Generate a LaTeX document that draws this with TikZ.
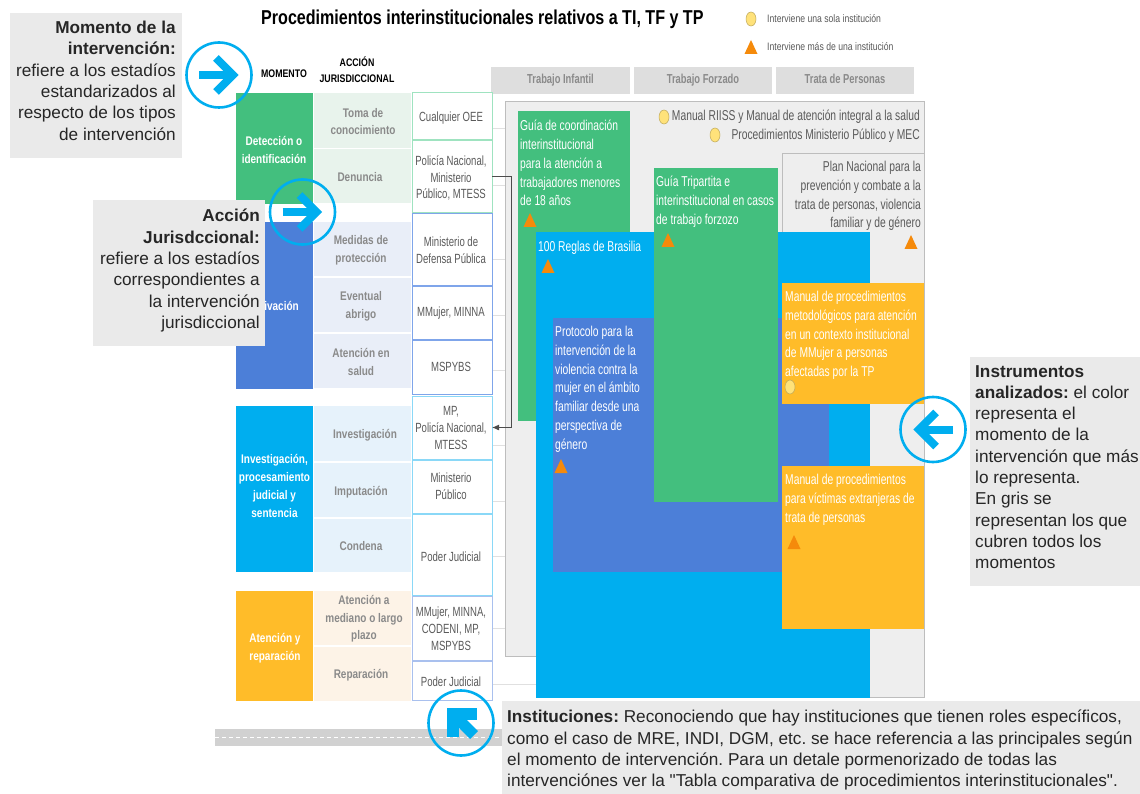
\documentclass[tikz,border=0pt]{standalone}
\usepackage{fontspec}
\setmainfont{Liberation Sans}
\newfontfamily\plainf{Liberation Sans}
\newfontfamily\nrw[FakeStretch=0.8]{Liberation Sans}
\newfontfamily\nrww[FakeStretch=0.72]{Liberation Sans}
\usetikzlibrary{calc,arrows.meta,shapes.geometric}
\definecolor{cgreen}{HTML}{43BF7E}
\definecolor{cblue}{HTML}{4C7FD8}
\definecolor{ccyan}{HTML}{00AEEF}
\definecolor{cyel}{HTML}{FFBC29}
\definecolor{lgreen}{HTML}{E8F3EC}
\definecolor{lblue}{HTML}{E9EEF8}
\definecolor{lcyan}{HTML}{E6F2FB}
\definecolor{lorange}{HTML}{FDF3E7}
\definecolor{callout}{HTML}{EAEAEA}
\definecolor{panel}{HTML}{EEEEEE}
\definecolor{edgegray}{HTML}{BDBDBD}
\definecolor{tabgray}{HTML}{DEDEDE}
\definecolor{inkgray}{HTML}{8A8A8A}
\definecolor{instgray}{HTML}{5A5A5A}
\definecolor{ctri}{HTML}{F58A0B}
\definecolor{ccir}{HTML}{FFE27A}
\definecolor{bgreen}{HTML}{9FE3C0}
\definecolor{bblue}{HTML}{7FA5EA}
\definecolor{bcyan}{HTML}{8AD8F7}
\definecolor{bperi}{HTML}{A9C0EE}
\newcommand\bx[7][]{\pgfmathsetmacro\bxw{#5-#3}\pgfmathsetmacro\bxh{#6-#4}\pgfmathsetmacro\bxcx{(#5+#3)/2}\pgfmathsetmacro\bxcy{(#6+#4)/2}%
\node[rect,minimum width=\bxw pt,minimum height=\bxh pt,#7] (#2) at (\bxcx,\bxcy) {#1};}
\newcommand\tri[3]{\node[inner sep=0,minimum size=0pt] (#1) at (#2,#3) {};\fill[ctri] ($(#1)+(-6.5,7)$) -- ($(#1)+(6.5,7)$) -- ($(#1)+(0,-7)$) -- cycle;}
\newcommand\dotc[3]{\node[ellipse,fill=ccir,draw=ccir!75!black,line width=.5pt,inner sep=0,minimum width=10pt,minimum height=14pt] (#1) at (#2,#3) {};}
\newcommand\tabt[1]{\nrww\bfseries\fontsize{13}{15}\selectfont\textcolor{inkgray}{#1}}
\tikzset{
 rect/.style={rectangle,inner sep=0,outer sep=0},
 cap16/.style={font=\fontsize{17.2}{21.3}\selectfont,text=black!85,inner sep=0},
 ttl/.style={font=\nrw\bfseries\fontsize{20.1}{22}\selectfont,text=black,inner sep=0},
 hd/.style={font=\nrw\bfseries\fontsize{11}{16}\selectfont,text=black,inner sep=0,align=center},
 leg/.style={font=\nrw\fontsize{10.8}{12}\selectfont,text=instgray,inner sep=0,anchor=west},
 mom/.style={font=\nrw\bfseries\fontsize{12.5}{17.7}\selectfont,text=white,inner sep=0,align=center},
 act/.style={font=\nrw\bfseries\fontsize{12.5}{17.7}\selectfont,text=inkgray,inner sep=0,align=center},
 ins/.style={font=\nrww\fontsize{13.3}{16.8}\selectfont,text=instgray,inner sep=0,align=center},
 doc/.style={font=\nrww\fontsize{14.3}{18.8}\selectfont,text=white,inner sep=0,anchor=north west,align=left},
 docg/.style={font=\nrww\fontsize{14.3}{18.8}\selectfont,text=instgray,inner sep=0,anchor=north east,align=right},
 ring/.style={circle,draw=ccyan,line width=2.6pt,inner sep=0,minimum width=65pt,minimum height=65pt,fill=none},
 arrowmark/.style={draw=ccyan,line width=8pt,line join=miter},
 grid/.style={draw=black!12,line width=1pt},
}
\frenchspacing
\begin{document}
\begin{tikzpicture}[x=1pt,y=-1pt]
\useasboundingbox (0,0) rectangle (1140,794);
\fill[white] (0,0) rectangle (1140,794);
% title, legend
\node[ttl,anchor=west] (title) at (261,19) {Procedimientos interinstitucionales relativos a TI, TF y TP};
\dotc{legc}{751}{19}
\node[leg] (legca) at (767,19) {Interviene una sola institución};
\tri{legt}{751}{47}
\node[leg] (legta) at (767,47) {Interviene más de una  institución};
\node[hd] (hmom) at (284,74) {MOMENTO};
\node[hd] (hacc) at (357,70) {ACCIÓN\\JURISDICCIONAL};
% tabs
\bx[\tabt{Trabajo Infantil}]{t1}{491}{67}{630}{94}{fill=tabgray}
\bx[\tabt{Trabajo Forzado}]{t2}{634}{67}{772}{94}{fill=tabgray}
\bx[\raisebox{4pt}{\tabt{Trata de Personas}}]{t3}{776}{67}{914}{94}{fill=tabgray}
% guide lines
\foreach \yy/\xe in {129/505,186/505,260/505,315/505,370/505,445/505,501/505,556/505,628/505,684/536}{
 \draw[grid] (490,\yy) -- (\xe,\yy);}
% momentos
\bx{m1}{236}{93}{313}{204}{fill=cgreen}
\bx{m2}{236}{222}{313}{389}{fill=cblue}
\bx{m3}{236}{406}{313}{572}{fill=ccyan}
\bx{m4}{236}{591}{313}{701}{fill=cyel}
\node[mom] (m1t) at (274,150) {Detección o\\identificación};
\node[mom,anchor=east] (m2t) at (299,306) {ivación};
\node[mom] (m3t) at (274.5,486) {Investigación,\\procesamiento\\judicial y\\sentencia};
\node[mom] (m4t) at (275,648) {Atención y\\reparación};
% acciones
\bx{a1}{314}{93}{411}{148}{fill=lgreen}
\bx{a2}{314}{149}{411}{203}{fill=lgreen}
\bx{a3}{314}{222}{411}{276}{fill=lblue}
\bx{a4}{314}{278}{411}{332}{fill=lblue}
\bx{a5}{314}{334}{411}{388}{fill=lblue}
\bx{a6}{314}{406}{411}{461}{fill=lcyan}
\bx{a7}{314}{463}{411}{517}{fill=lcyan}
\bx{a8}{314}{519}{411}{572}{fill=lcyan}
\bx{a9}{314}{591}{411}{645}{fill=lorange}
\bx{a10}{314}{647}{411}{701}{fill=lorange}
\node[act] (a1t) at (363,121.5) {Toma de\\conocimiento};
\node[act] (a2t) at (360,177) {Denuncia};
\node[act] (a3t) at (361,250) {Medidas de\\protección};
\node[act] (a4t) at (361,306) {Eventual\\abrigo};
\node[act] (a5t) at (361,362) {Atención en\\salud};
\node[act] (a6t) at (365,435) {Investigación};
\node[act] (a7t) at (361,492) {Imputación};
\node[act] (a8t) at (361,546) {Condena};
\node[act] (a9t) at (364,619) {Atención a\\mediano o largo\\plazo};
\node[act] (a10t) at (361,675) {Reparación};
% instituciones
\bx{i1}{412}{92}{492}{139.5}{draw=bgreen,line width=.9pt,fill=white}
\bx{i2}{412}{140.5}{492}{212}{draw=bgreen,line width=.9pt,fill=white}
\bx{i3}{412}{213}{492}{285}{draw=bblue,line width=.9pt,fill=white}
\bx{i4}{412}{286}{492}{339}{draw=bblue,line width=.9pt,fill=white}
\bx{i5}{412}{340}{492}{394}{draw=bblue,line width=.9pt,fill=white}
\bx{i6}{412}{396}{492}{459}{draw=bcyan,line width=.9pt,fill=white}
\bx{i7}{412}{460}{492}{513}{draw=bcyan,line width=.9pt,fill=white}
\bx{i8}{412}{514}{492}{595}{draw=bcyan,line width=.9pt,fill=white}
\bx{i9}{412}{596}{492}{660}{draw=bperi,line width=.9pt,fill=white}
\bx{i10}{412}{661}{492}{700}{draw=bperi,line width=.9pt,fill=white}
\node[ins] (i1t) at (451,118) {Cualquier OEE};
\node[ins] (i2t) at (451,178) {Policía Nacional,\\Ministerio\\Público, MTESS};
\node[ins] (i3t) at (451,250) {Ministerio de\\Defensa Pública};
\node[ins] (i4t) at (451,313) {MMujer, MINNA};
\node[ins] (i5t) at (451,367) {MSPYBS};
\node[ins] (i6t) at (451,428) {MP,\\Policía Nacional,\\MTESS};
\node[ins] (i7t) at (451,486) {Ministerio\\Público};
\node[ins] (i8t) at (451,557) {Poder Judicial};
\node[ins] (i9t) at (451,629) {MMujer, MINNA,\\CODENI, MP,\\MSPYBS};
\node[ins] (i10t) at (451,682) {Poder Judicial};
% panel
\fill[panel,draw=edgegray,line width=1pt] (505,102) -- (924,102) -- (924,697) -- (536,697) -- (536,656) -- (505,656) -- cycle;
% connector
\draw[black!70,line width=1pt,-{Latex[length=7pt,width=6pt]}] (i2.east) -- ++(19,0) |- (i6.east);
\fill[panel,draw=edgegray,line width=1pt] (782,400) -- (782,154) -- (924,154) -- (924,400);
\bx{g1}{518}{111}{630}{421}{fill=cgreen}
\bx{c1}{536}{232}{870}{698}{fill=ccyan}
\bx{b1}{553}{318}{829}{572}{fill=cblue}
\bx{g2}{654}{168}{778}{502}{fill=cgreen}
\bx{y1}{782}{283}{924}{404}{fill=cyel}
\bx{y2}{782}{466}{924}{629}{fill=cyel}
% documents
\node[docg] (d1) at (920,109.5) {Manual RIISS y Manual de atención integral a la salud\\Procedimientos Ministerio Público y MEC};
\dotc{d1c}{664}{117}
\dotc{d2c}{715}{135}
\node[docg] (d3) at (921,161) {Plan Nacional para la\\prevención y combate a la\\trata de personas, violencia\\familiar y de género};
\tri{d3t}{911}{242}
\node[doc] (d4) at (520,120) {Guía de coordinación\\interinstitucional\\para la atención a\\trabajadores menores\\de 18 años};
\tri{d4t}{530}{220}
\node[doc] (d5) at (538,241) {100 Reglas de Brasilia};
\tri{d5t}{548}{266}
\node[doc] (d6) at (555,326) {Protocolo para la\\intervención de la\\violencia contra la\\mujer en el ámbito\\familiar desde una\\perspectiva de\\género};
\tri{d6t}{561}{466}
\node[doc] (d7) at (656,176) {Guía Tripartita e\\interinstitucional en casos\\de trabajo forzozo};
\tri{d7t}{668}{240}
\node[doc] (d8) at (785,291) {Manual de procedimientos\\metodológicos para atención\\en un contexto institucional\\de MMujer a personas\\afectadas por la TP};
\dotc{d8c}{790}{387}
\node[doc] (d9) at (785,474) {Manual de procedimientos\\para víctimas extranjeras de\\trata de personas};
\tri{d9t}{794}{542}
% road
\bx{road}{215}{729}{505}{746}{fill=black!18}
\coordinate (rl) at (215,737.5);
\coordinate (rr) at (505,737.5);
\draw[white,line width=1pt,dash pattern=on 4pt off 3pt] (rl) -- (rr);
% callouts
\bx{cb1}{10}{13}{182}{158}{fill=callout}
\node[cap16,anchor=north east,align=right] (cb1t) at (176,21) {\textbf{Momento de la}\\\textbf{intervención:}\\refiere a los estadíos\\estandarizados al\\respecto de los tipos\\de intervención};
\bx{cb2}{93}{200}{265}{346}{fill=callout}
\node[cap16,anchor=north east,align=right] (cb2t) at (260,209) {\textbf{Acción}\\\textbf{Jurisdccional:}\\refiere a los estadíos\\correspondientes a\\la intervención\\jurisdiccional};
\bx{cb3}{970}{357}{1140}{586}{fill=callout}
\node[cap16,anchor=north west,align=left] (cb3t) at (975,365) {\textbf{Instrumentos}\\\textbf{analizados:} el color\\representa el\\momento de la\\intervención que más\\lo representa.\\En gris se\\representan los que\\cubren todos los\\momentos};
\bx{cb4}{502}{701}{1140}{794}{fill=callout}
\node[cap16,anchor=north west,align=left] (cb4t) at (507,710) {\textbf{Instituciones:} Reconociendo que hay instituciones que tienen roles específicos,\\como el caso de MRE, INDI, DGM, etc. se hace referencia a las principales según\\el momento de intervención. Para un detale pormenorizado de todas las\\intervenciónes ver la {\plainf"}Tabla comparativa de procedimientos interinstitucionales{\plainf"}.};
% rings
\node[ring] (r1) at (219,75) {};
\draw[arrowmark] ($(r1)+(-20,0)$) -- ($(r1)+(14,0)$);
\draw[arrowmark] ($(r1)+(-3,-17)$) -- ($(r1)+(14,0)$) -- ($(r1)+(-3,17)$);
\node[ring] (r2) at (302.5,212) {};
\draw[arrowmark] ($(r2)+(-20,0)$) -- ($(r2)+(14,0)$);
\draw[arrowmark] ($(r2)+(-3,-17)$) -- ($(r2)+(14,0)$) -- ($(r2)+(-3,17)$);
\node[ring] (r3) at (933,429.5) {};
\draw[arrowmark] ($(r3)+(20,0)$) -- ($(r3)+(-14,0)$);
\draw[arrowmark] ($(r3)+(3,-17)$) -- ($(r3)+(-14,0)$) -- ($(r3)+(3,17)$);
\node[ring] (r4) at (461,723) {};
\draw[draw=ccyan,line width=11pt] ($(r4)+(-8,-9)$) -- ($(r4)+(13,12)$);
\draw[draw=ccyan,line width=12pt,line join=miter] ($(r4)+(-8,14)$) -- ($(r4)+(-8,-9)$) -- ($(r4)+(16,-9)$);
\end{tikzpicture}
\end{document}
